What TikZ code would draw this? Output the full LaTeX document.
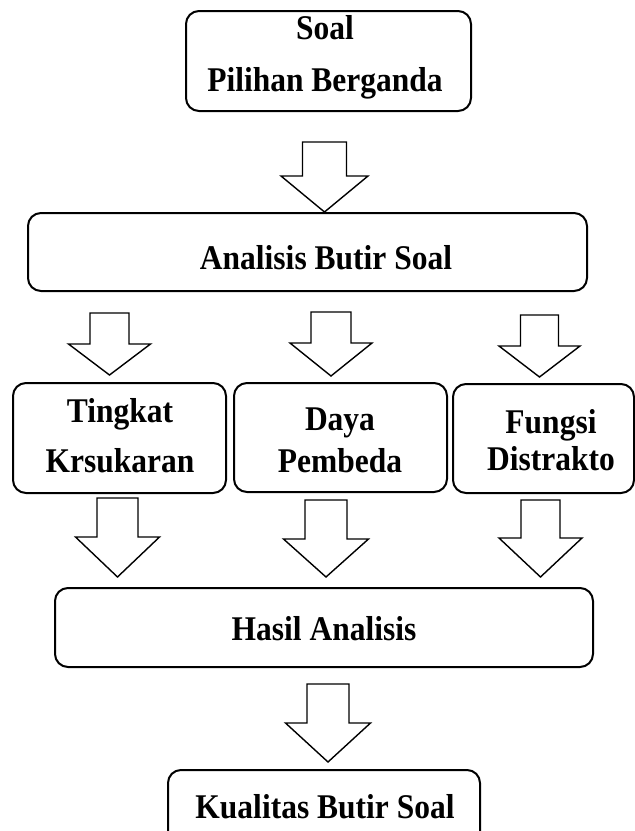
\documentclass[tikz,border=0pt]{standalone}
\usepackage{fontspec}
\usepackage{graphicx}
\setmainfont{Liberation Serif}
\tikzset{
  box/.style={draw, line width=2pt, rounded corners=13pt, inner sep=0pt},
  lbl/.style={anchor=base, inner sep=0pt, font=\fontsize{31.5}{36}\selectfont\bfseries},
  blockarrow/.style={draw, line width=1.4pt, line join=miter, fill=white}
}
\newcommand\tallt[1]{\scalebox{1}[1.1]{#1}}
% cx, top, wing, tip, shaft half width, head half width
\newcommand\barrow[6]{%
  \draw[blockarrow] (#1-#5,#2) -- (#1+#5,#2) -- (#1+#5,#3) -- (#1+#6,#3)
    -- (#1,#4) -- (#1-#6,#3) -- (#1-#5,#3) -- cycle;}
\begin{document}
\begin{tikzpicture}[x=1pt,y=-1pt]
\useasboundingbox (0,0) rectangle (635,831);
% boxes
\node[box, minimum width=285pt, minimum height=100pt] (soal) at (328.5,61) {};
\node[box, minimum width=559pt, minimum height=78pt] (analisis) at (307.5,252) {};
\node[box, minimum width=213pt, minimum height=110pt] (tingkat) at (119.5,438) {};
\node[box, minimum width=213pt, minimum height=109pt] (daya) at (340.5,437.5) {};
\node[box, minimum width=181pt, minimum height=109pt] (fungsi) at (543.5,438.5) {};
\node[box, minimum width=538pt, minimum height=79pt] (hasil) at (324,627.5) {};
\node[box, minimum width=312pt, minimum height=80pt] (kualitas) at (324,810) {};
% texts
\node[lbl] (soal1) at (325,39) {\tallt{Soal}};
\node[lbl] (soal2) at (325,91) {\tallt{Pilihan Berganda}};
\node[lbl] (analisist) at (326,269) {\tallt{Analisis Butir Soal}};
\node[lbl] (tingkat1) at (120,422) {\tallt{Tingkat}};
\node[lbl] (tingkat2) at (120,472) {\tallt{Krsukaran}};
\node[lbl] (daya1) at (340,430) {\tallt{Daya}};
\node[lbl] (daya2) at (340,472) {\tallt{Pembeda}};
\node[lbl] (fungsi1) at (551,433) {\tallt{Fungsi}};
\node[lbl] (fungsi2) at (551,470) {\tallt{Distrakto}};
\node[lbl] (hasilt) at (324,640) {\tallt{Hasil Analisis}};
\node[lbl] (kualitast) at (325,818) {\tallt{Kualitas Butir Soal}};
% block arrows
\barrow{324.5}{142}{176}{212}{22}{43.5}
\barrow{109.5}{313}{344}{375}{19.5}{41}
\barrow{331}{312}{343}{376}{20}{41}
\barrow{539.5}{315}{346}{377}{19}{40.5}
\barrow{117.5}{498}{537}{577}{20.5}{42}
\barrow{326}{500}{539}{577}{21}{42.5}
\barrow{540.5}{500}{538}{577}{19.5}{41.5}
\barrow{328}{684}{723}{762}{21}{42.5}
\end{tikzpicture}
\end{document}
